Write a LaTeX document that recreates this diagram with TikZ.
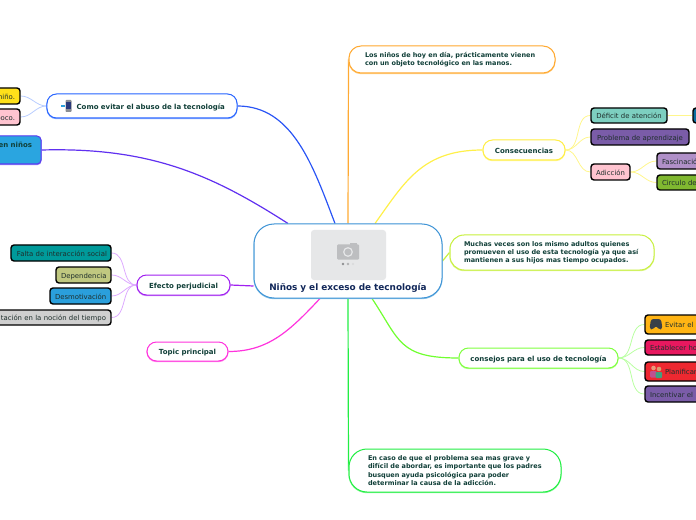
\documentclass[tikz,border=0pt]{standalone}
\usepackage{fontspec}
\setmainfont{DejaVu Sans}
\usetikzlibrary{backgrounds}
\newcommand{\defhex}[1]{\definecolor{h#1}{HTML}{#1}}
\defhex{3F94D6}\defhex{8CC4E8}\defhex{2A66FF}\defhex{7FA5FF}\defhex{A020F0}\defhex{CF8CF8}
\defhex{FF33DD}\defhex{FF88EC}\defhex{FFAA33}\defhex{FFCC80}\defhex{FFEE44}\defhex{FFF68C}
\defhex{C8F040}\defhex{DDF68C}\defhex{80FF40}\defhex{B0FF8C}\defhex{22EE44}\defhex{80F890}
\defhex{5A3CF0}\defhex{8A78F4}\defhex{2AA5E0}\defhex{FFE01A}\defhex{FFC4D0}\defhex{009A9A}
\defhex{C0C880}\defhex{2A9FDC}\defhex{CFCFCF}\defhex{7DCFC0}\defhex{0A6EA0}\defhex{7A5CA8}
\defhex{B090C8}\defhex{80B830}\defhex{FFB414}\defhex{E8185F}\defhex{EE2830}\defhex{E6E7E8}
\defhex{BDBEC0}\defhex{8E8F91}\defhex{B0B1B3}\defhex{DADBDC}\defhex{8A8E94}\defhex{2A3A7A}
\defhex{3A4048}\defhex{E89B7A}\defhex{C05090}\defhex{D8A070}\defhex{40A080}\defhex{2A55F5}
\defhex{6030F0}\defhex{FFF04A}\defhex{70FF30}\defhex{B7CCFF}\defhex{DDAAFF}\defhex{B8FFA0}
\definecolor{ink}{HTML}{103F38}
\definecolor{inkb}{HTML}{1F2F2C}
\definecolor{navy}{HTML}{12285A}
\newcommand{\nd}[8][]{%
  \pgfmathsetmacro\cxx{(#4+#6)/2}%
  \pgfmathsetmacro\cyy{(#5+#7)/2}%
  \pgfmathsetmacro\hhh{#7-#5}%
  \pgfmathsetmacro\www{#6-#4-2*#1}%
  \node[#3,inner xsep=#1 bp,text width=\www bp,minimum height=\hhh bp] (#2) at (\cxx,\cyy) {#8};}
\tikzset{
  x=1bp,y=-1bp,
  ln/.style={text height=6.4bp,text depth=0pt},
  topic/.style 2 args={draw=#1,fill=white,line width=1bp,rounded corners=9.5bp,inner ysep=0pt,
    align=center,font=\fontsize{7bp}{8.2bp}\selectfont\bfseries,text=ink,
    preaction={draw=#2,line width=1.2bp,transform canvas={yshift=-0.6bp}}},
  para/.style={align=left,font=\fontsize{6.5bp}{8.2bp}\selectfont\bfseries},
  leaf/.style={draw=black,fill=#1,line width=1.4bp,rounded corners=3bp,inner ysep=0pt,ln,
    align=center,font=\fontsize{6.9bp}{8bp}\selectfont,text=inkb},
  tleft/.style={align=left},
  tright/.style={align=right},
  main/.style={line width=1.2bp},
  sub/.style={line width=.8bp},
}
\begin{document}
\begin{tikzpicture}
\useasboundingbox (0,0) rectangle (696,520);
\clip (0,0) rectangle (696,520);
% central
\nd[4]{c}{topic={h3F94D6}{h8CC4E8},rounded corners=20bp,font=\fontsize{8.9bp}{10bp}\selectfont\bfseries,text=navy}{254}{224}{442}{298}{\raisebox{-29bp}[0pt][0pt]{\strut Niños y el exceso de tecnología}}
% first level
\nd[4]{como}{topic={h2A66FF}{h7FA5FF},ln}{47}{94}{237}{118}{\hspace*{17.5bp}Como evitar el abuso de la tecnología}
\nd[4]{efecto}{topic={hA020F0}{hCF8CF8},ln}{137}{275}{230}{295}{Efecto perjudicial}
\nd[4]{topicp}{topic={hFF33DD}{hFF88EC},ln}{147}{342}{228}{361}{Topic principal}
\nd[16]{top}{topic={hFFAA33}{hFFCC80},para,rounded corners=12bp}{349}{46}{555}{73}{\mbox{Los niños de hoy en día, prácticamente vienen}\\\mbox{con un objeto tecnológico en las manos.}}
\nd[4]{cons}{topic={hFFEE44}{hFFF68C},ln}{483}{140}{565}{160}{Consecuencias}
\nd[14]{muchas}{topic={hC8F040}{hDDF68C},para,rounded corners=14bp}{450}{235}{654}{270}{\mbox{Muchas veces son los mismo adultos quienes}\\\mbox{promueven el uso de esta tecnología ya que así}\\\mbox{mantienen a sus hijos mas tiempo ocupados.}}
\nd[4]{consejos}{topic={h80FF40}{hB0FF8C},ln}{459}{348}{618}{368}{consejos para el uso de tecnología}
\nd[19]{caso}{topic={h22EE44}{h80F890},para,rounded corners=18bp}{349}{449}{561}{492}{\mbox{En caso de que el problema sea mas grave y}\\\mbox{difícil de abordar, es importante que los padres}\\\mbox{busquen ayuda psicológica para poder}\\\mbox{determinar la causa de la adicción.}}
\nd[9]{enninos}{topic={h5A3CF0}{h8A78F4},tright,fill=h2AA5E0,rounded corners=4bp}{-40}{136}{41}{164}{\raisebox{2bp}[0pt][0pt]{en niños}}
% leaves: left
\nd[5]{nino}{leaf=hFFE01A,tright}{-40}{88}{20}{104}{niño.}
\nd[5]{poco}{leaf=hFFC4D0,tright}{-40}{109}{20}{125}{poco.}
\nd[4]{falta}{leaf=h009A9A,tright}{11}{245}{111}{261}{Falta de interacción social}
\nd[5]{dep}{leaf=hC0C880,tright}{56}{267}{111}{283}{Dependencia}
\nd[5]{desm}{leaf=h2A9FDC,tright}{50}{288}{111}{304}{Desmotivación}
\nd[5]{desor}{leaf=hCFCFCF,tright}{-30}{310}{111}{325}{tación en la noción del tiempo}
% leaves: right
\nd[3]{def}{leaf=h7DCFC0}{591}{108}{667}{123}{Déficit de atención}
\nd[0]{defn}{leaf=h0A6EA0}{693}{108}{730}{123}{}
\nd[3]{prob}{leaf=h7A5CA8}{591}{129}{689}{145}{Problema de aprendizaje}
\nd[3]{adic}{leaf=hFFC4D0}{591}{164}{630}{180}{Adicción}
\nd[5]{fasc}{leaf=hB090C8,tleft}{657}{153}{740}{169}{Fascinación}
\nd[5]{circ}{leaf=h80B830,tleft}{657}{175}{740}{190}{Circulo de}
\nd[20]{evit}{leaf=hFFB414,tleft}{645}{315}{740}{334}{Evitar el}
\nd[5]{esta}{leaf=hE8185F,tleft}{645}{340}{740}{355}{Establecer ho}
\nd[20]{plan}{leaf=hEE2830,tleft}{645}{362}{740}{381}{Planificar}
\nd[5]{ince}{leaf=h7A5CA8,tleft}{645}{386}{740}{402}{Incentivar el}
% camera placeholder
\fill[hE6E7E8,rounded corners=3bp] (311,230) rectangle (386,280);
\fill[hBDBEC0,rounded corners=1bp] (337,244.5) rectangle (359,259.5);
\fill[hBDBEC0] (350,243) rectangle (357,245);
\draw[hE6E7E8,line width=1.2bp] (348,252) circle (4.3);
\fill[h8E8F91] (343,264) circle (1.4);
\fill[hB0B1B3] (348,264) circle (1.4);
\fill[hDADBDC] (353,264) circle (1.4);
% phone icon
\fill[h2A9FDC] (61,105.5) rectangle (65,107.5);
\fill[h8A8E94,rounded corners=.8bp] (65.5,100) rectangle (71.5,112);
\fill[h2A3A7A] (66.3,102) rectangle (70.7,109.5);
% gamepad icon
\fill[h3A4048,rounded corners=2.5bp] (651,319) -- (661,319) -- (662.5,329) -- (659,329.5) -- (657.5,326.5) -- (654.5,326.5) -- (653,329.5) -- (649.5,329) -- cycle;
% people icon
\fill[hE89B7A] (653.5,368) circle (2.3);
\fill[hC05090,rounded corners=1bp] (650,371) rectangle (656.5,377.5);
\fill[hD8A070] (659,369) circle (2.3);
\fill[h40A080,rounded corners=1bp] (655.5,372) rectangle (662,378);
% connectors
\begin{pgfonlayer}{background}
\draw[main,hFFAA33] (c.north) -- (top.west);
\draw[main,h22EE44] (c.south) -- (caso.west);
\draw[main,h2A55F5] ([xshift=-13bp]c.north) .. controls +(-22,-58) and +(55,0) .. (como.east);
\draw[main,h6030F0] ([xshift=-60bp]c.north) .. controls +(-75,-48) and +(110,-3) .. (enninos.east);
\draw[main,hFFF04A] ([xshift=27bp]c.north) .. controls +(30,-42) and +(-60,0) .. (cons.west);
\draw[main,hC8F040] (c.east) -- (muchas.west);
\draw[main,h70FF30] ([xshift=24bp]c.south) .. controls +(28,42) and +(-60,0) .. (consejos.west);
\draw[main,hFF33DD] ([xshift=-28bp]c.south) .. controls +(-30,32) and +(40,0) .. (topicp.east);
\draw[main,hA020F0] ([yshift=-25bp]c.west) -- (efecto.east);
\foreach \n in {nino,poco} \draw[sub,hB7CCFF] (como.west) to[out=180,in=0] (\n.east);
\foreach \n in {falta,dep,desm,desor} \draw[sub,hDDAAFF] (efecto.west) to[out=180,in=0] (\n.east);
\foreach \n in {def,prob,adic} \draw[sub,hFFF68C] (cons.east) to[out=0,in=180] (\n.west);
\draw[sub,hFFF68C] (def.east) -- (defn.west);
\foreach \n in {fasc,circ} \draw[sub,hFFF68C] (adic.east) to[out=0,in=180] (\n.west);
\foreach \n in {evit,esta,plan,ince} \draw[sub,hB8FFA0] (consejos.east) to[out=0,in=180] (\n.west);
\end{pgfonlayer}
\end{tikzpicture}
\end{document}
